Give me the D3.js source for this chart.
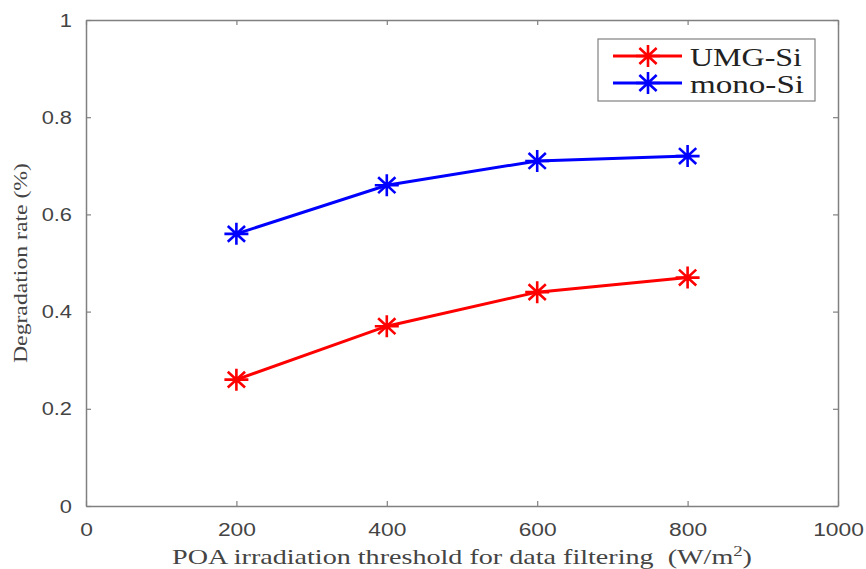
<!DOCTYPE html>
<html>
<head>
<meta charset="utf-8">
<script src="https://cdn.jsdelivr.net/npm/d3@7"></script>
<style>
  body { margin: 0; background: #fff; }
  .wide { transform-box: fill-box; transform-origin: center; transform: scaleX(1.2); }
</style>
</head>
<body>
<div id="chart"></div>
<script>
const thresholds = [200, 400, 600, 800];
const umgSi = [0.26, 0.37, 0.44, 0.47];
const monoSi = [0.56, 0.66, 0.71, 0.72];
const xTicks = [0, 200, 400, 600, 800, 1000];
const yTicks = [0, 0.2, 0.4, 0.6, 0.8, 1];
const seriesNames = ["UMG-Si", "mono-Si"];
const seriesColors = ["#ff0000", "#0000ff"];

const width = 866;
const height = 569;
const margin = { top: 20, right: 28, bottom: 63, left: 86 };

const svg = d3.select("#chart")
  .append("svg")
  .attr("width", width)
  .attr("height", height);

const x = d3.scaleLinear()
  .domain([0, 1000])
  .range([margin.left, width - margin.right]);

const y = d3.scaleLinear()
  .domain([0, 1])
  .range([height - margin.bottom, margin.top]);

const axisColor = "#808080";
const textColor = "#444";

function styleAxis(g) {
  g.select(".domain").attr("stroke", axisColor).attr("stroke-width", 1.5);
  g.selectAll(".tick line").attr("stroke", axisColor).attr("stroke-width", 1.2);
}

// bottom axis with labels
svg.append("g")
  .attr("transform", `translate(0,${y(0)})`)
  .call(d3.axisBottom(x).tickValues(xTicks).tickFormat(d3.format("d")).tickSize(-5).tickSizeOuter(0).tickPadding(17))
  .call(styleAxis)
  .call(g => g.selectAll(".tick text")
    .attr("class", "wide")
    .attr("fill", textColor)
    .style("font-family", "'Liberation Sans', Arial, sans-serif")
    .style("font-size", "19px"));

// left axis with labels
svg.append("g")
  .attr("transform", `translate(${x(0)},0)`)
  .call(d3.axisLeft(y).tickValues(yTicks).tickFormat(d3.format("~g")).tickSize(-5).tickSizeOuter(0).tickPadding(16))
  .call(styleAxis)
  .call(g => g.selectAll(".tick text")
    .attr("fill", textColor)
    .style("font-family", "'Liberation Sans', Arial, sans-serif")
    .style("font-size", "19px")
    .attr("transform", "scale(1.15,1)")
    .attr("x", -14 / 1.15));

// top and right box axes
svg.append("g")
  .attr("transform", `translate(0,${y(1)})`)
  .call(d3.axisTop(x).tickValues(xTicks).tickSize(-5).tickSizeOuter(0).tickFormat(""))
  .call(styleAxis);

svg.append("g")
  .attr("transform", `translate(${x(1000)},0)`)
  .call(d3.axisRight(y).tickValues(yTicks).tickSize(-5).tickSizeOuter(0).tickFormat(""))
  .call(styleAxis);

// axis titles
svg.append("text")
  .attr("x", (x(0) + x(1000)) / 2)
  .attr("y", 564)
  .attr("text-anchor", "middle")
  .attr("textLength", 580)
  .attr("lengthAdjust", "spacingAndGlyphs")
  .attr("fill", textColor)
  .style("font-family", "'Liberation Serif', 'Times New Roman', serif")
  .style("font-size", "21px")
  .call(t => {
    t.append("tspan").text("POA irradiation threshold for data filtering\u00a0\u00a0(W/m");
    t.append("tspan").attr("dy", -8).style("font-size", "14px").text("2");
    t.append("tspan").attr("dy", 8).text(")");
  });

svg.append("text")
  .attr("transform", `translate(27,${(y(0) + y(1)) / 2}) rotate(-90)`)
  .attr("text-anchor", "middle")
  .attr("textLength", 200)
  .attr("lengthAdjust", "spacingAndGlyphs")
  .attr("fill", textColor)
  .style("font-family", "'Liberation Serif', 'Times New Roman', serif")
  .style("font-size", "18px")
  .text("Degradation rate (%)");

// asterisk marker
function starPath(rx, ry) {
  const dx = rx * 0.72, dy = ry * 0.72;
  return `M0,${-ry}V${ry}M${-rx},0H${rx}M${-dx},${-dy}L${dx},${dy}M${-dx},${dy}L${dx},${-dy}`;
}

const line = d3.line()
  .x(d => x(d[0]))
  .y(d => y(d[1]));

const series = [umgSi, monoSi];

series.forEach((vals, i) => {
  const pts = thresholds.map((t, j) => [t, vals[j]]);
  const g = svg.append("g");
  g.append("path")
    .datum(pts)
    .attr("d", line)
    .attr("fill", "none")
    .attr("stroke", seriesColors[i])
    .attr("stroke-width", 3);
  g.selectAll(".marker")
    .data(pts)
    .join("path")
    .attr("class", "marker")
    .attr("transform", d => `translate(${x(d[0])},${y(d[1])})`)
    .attr("d", starPath(12, 11))
    .attr("fill", "none")
    .attr("stroke", seriesColors[i])
    .attr("stroke-width", 2.6);
});

// legend
const legend = svg.append("g");
legend.append("rect")
  .attr("x", 598)
  .attr("y", 39)
  .attr("width", 217)
  .attr("height", 62)
  .attr("fill", "#fff")
  .attr("stroke", axisColor)
  .attr("stroke-width", 1.2);

seriesNames.forEach((name, i) => {
  const ly = 56 + i * 27;
  legend.append("line")
    .attr("x1", 613).attr("x2", 682)
    .attr("y1", ly).attr("y2", ly)
    .attr("stroke", seriesColors[i])
    .attr("stroke-width", 3);
  legend.append("path")
    .attr("transform", `translate(648,${ly})`)
    .attr("d", starPath(12, 11))
    .attr("fill", "none")
    .attr("stroke", seriesColors[i])
    .attr("stroke-width", 2.6);
  legend.append("text")
    .attr("x", 690)
    .attr("y", ly + 10)
    .attr("textLength", name === "UMG-Si" ? 112 : 114)
    .attr("lengthAdjust", "spacingAndGlyphs")
    .attr("fill", "#222")
    .style("font-family", "'Liberation Serif', 'Times New Roman', serif")
    .style("font-size", "26px")
    .text(name);
});
</script>
</body>
</html>
